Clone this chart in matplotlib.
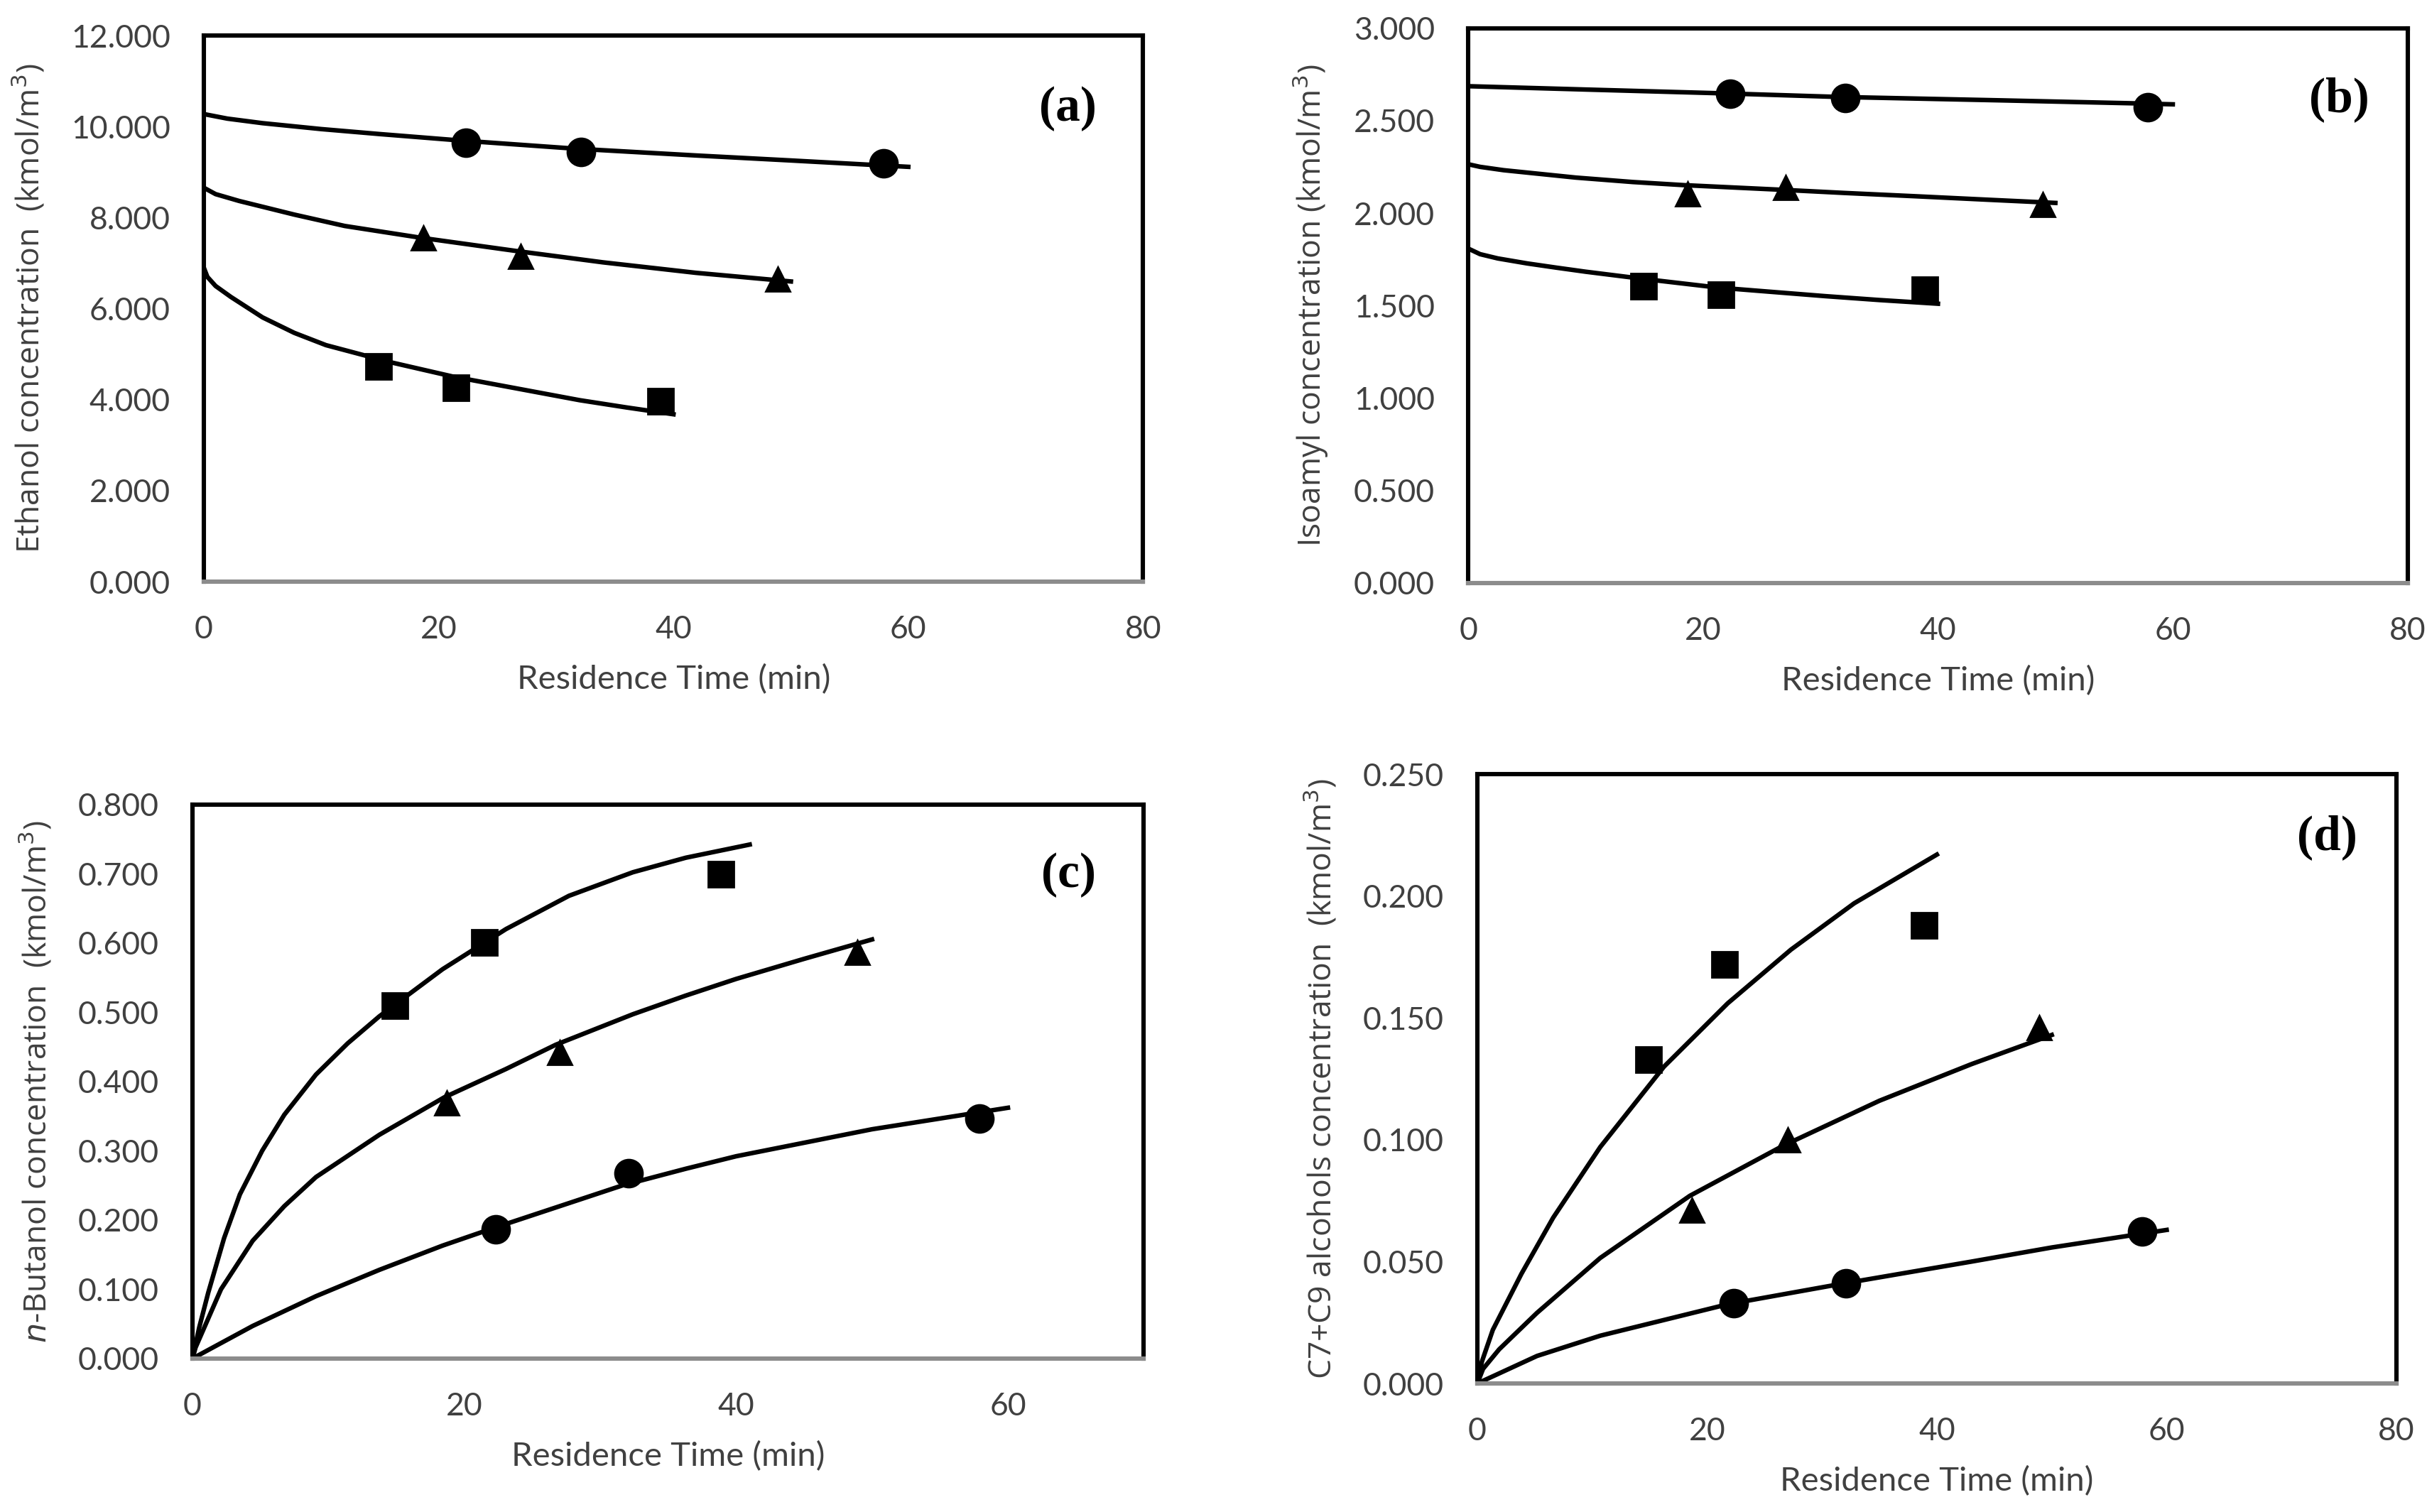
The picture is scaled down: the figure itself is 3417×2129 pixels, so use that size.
import matplotlib.pyplot as plt

# ---- measured points (residence time in min, concentration in kmol/m3) ----
t_sq = [14.9, 21.5, 38.9]
t_tri = [18.7, 27.0, 48.9]
t_cir = [22.3, 32.1, 57.9]

eth_sq = [4.73, 4.26, 3.96]
eth_tri = [7.55, 7.15, 6.65]
eth_cir = [9.65, 9.45, 9.20]

iso_sq = [1.606, 1.557, 1.585]
iso_tri = [2.105, 2.140, 2.048]
iso_cir = [2.646, 2.624, 2.574]

but_sq = [0.509, 0.601, 0.699]
but_tri = [0.369, 0.442, 0.586]
but_cir = [0.186, 0.267, 0.346]

c79_sq = [0.133, 0.172, 0.188]
c79_tri = [0.071, 0.100, 0.146]
c79_cir = [0.033, 0.041, 0.0625]

# ---- model curves ----
eth_sq_t = [0, 0.3, 1, 2.3, 5, 7.7, 10.4, 15.8, 21.2, 26.6, 32, 36, 40]
eth_sq_c = [6.90, 6.70, 6.50, 6.26, 5.81, 5.47, 5.20, 4.83, 4.51, 4.25, 3.99, 3.83, 3.68]
eth_tri_t = [0, 1, 3, 7.7, 12, 18.5, 26.6, 34, 41.9, 50]
eth_tri_c = [8.66, 8.52, 8.37, 8.07, 7.82, 7.56, 7.27, 7.02, 6.79, 6.60]
eth_cir_t = [0, 2, 5, 10, 15, 21.8, 31.6, 41.9, 50, 60]
eth_cir_c = [10.28, 10.18, 10.08, 9.95, 9.84, 9.70, 9.52, 9.37, 9.26, 9.12]

iso_sq_t = [0, 1, 2.5, 5, 7.5, 10, 14.8, 21.3, 30.4, 35, 40]
iso_sq_c = [1.808, 1.778, 1.755, 1.728, 1.705, 1.683, 1.645, 1.597, 1.551, 1.530, 1.510]
iso_tri_t = [0, 1, 3, 9.15, 14, 18.4, 26.7, 32, 38.1, 44, 50]
iso_tri_c = [2.264, 2.250, 2.232, 2.192, 2.168, 2.151, 2.126, 2.109, 2.091, 2.073, 2.055]
iso_cir_t = [0, 10, 21.9, 31.5, 45, 57, 60]
iso_cir_c = [2.686, 2.668, 2.647, 2.628, 2.610, 2.593, 2.588]

but_sq_t = [0, 0.5, 1.16, 2.33, 3.49, 5.13, 6.76, 9.09, 11.42, 13.75, 18.4, 23.07,
            27.7, 32.4, 36.3, 41]
but_sq_c = [0, 0.045, 0.095, 0.174, 0.237, 0.300, 0.352, 0.410, 0.455, 0.494, 0.562,
            0.620, 0.668, 0.702, 0.723, 0.742]
but_tri_t = [0, 0.23, 2.1, 4.43, 6.76, 9.09, 13.75, 18.52, 23.07, 26.73, 32.4, 36.3,
             40, 45, 50]
but_tri_c = [0, 0.016, 0.100, 0.170, 0.220, 0.262, 0.323, 0.377, 0.418, 0.453, 0.497,
             0.524, 0.548, 0.577, 0.605]
but_cir_t = [0, 4.43, 9.09, 13.75, 18.4, 21.95, 31.65, 36.3, 40, 50, 60]
but_cir_c = [0, 0.047, 0.090, 0.128, 0.163, 0.187, 0.250, 0.274, 0.292, 0.331, 0.362]

c79_sq_t = [0, 0.4, 1.35, 3.84, 6.6, 10.7, 16.25, 21.8, 27.3, 32.8, 40]
c79_sq_c = [0, 0.009, 0.022, 0.045, 0.068, 0.097, 0.130, 0.156, 0.178, 0.197, 0.217]
c79_tri_t = [0, 0.5, 1.9, 5.2, 10.7, 18.5, 26.6, 35, 43, 50]
c79_tri_c = [0, 0.006, 0.014, 0.029, 0.0515, 0.077, 0.0975, 0.116, 0.131, 0.143]
c79_cir_t = [0, 5.2, 10.7, 21.8, 31.6, 43, 50, 60]
c79_cir_c = [0, 0.0113, 0.0196, 0.0325, 0.0408, 0.0500, 0.0558, 0.063]

txt_col = '#404040'
tick_font = 'Lato'
label_font = 'Open Sans'

fig = plt.figure(figsize=(17.085, 10.645), dpi=200)


def panel(rect, curves, points, ylim, yticks, xlim, xticks, ylabel, tag, tag_pos):
    ax = fig.add_axes(rect)
    for t, c in curves:
        ax.plot(t, c, color='black', lw=2.3, zorder=2, solid_joinstyle='round')
    for (t, c), m, ms in zip(points, ['s', '^', 'o'], [13, 12, 14]):
        ax.plot(t, c, ls='none', marker=m, ms=ms, color='black', zorder=3)
    ax.set_xlim(*xlim)
    ax.set_ylim(*ylim)
    ax.set_xticks(xticks)
    ax.set_yticks(yticks)
    ax.set_yticklabels([f'{v:.3f}' for v in yticks])
    ax.tick_params(length=0, pad=17, labelsize=16, labelcolor=txt_col)
    for lb in ax.get_xticklabels() + ax.get_yticklabels():
        lb.set_fontfamily(tick_font)
    for s in ['left', 'top', 'right']:
        ax.spines[s].set_color('black')
        ax.spines[s].set_linewidth(2.2)
    ax.spines['bottom'].set_color('#8c8c8c')
    ax.spines['bottom'].set_linewidth(2.2)
    ax.set_xlabel('Residence Time (min)', fontsize=17, family=tick_font,
                  color=txt_col, labelpad=10)
    ax.set_ylabel(ylabel, fontsize=16, family=label_font, color=txt_col, labelpad=12)
    ax.text(tag_pos[0], tag_pos[1], '(' + tag + ')', transform=ax.transAxes,
            ha='center', va='center', fontsize=25, family='Liberation Serif',
            fontweight='bold')
    return ax


panel([0.084, 0.6153, 0.387, 0.361],
      [(eth_sq_t, eth_sq_c), (eth_tri_t, eth_tri_c), (eth_cir_t, eth_cir_c)],
      [(t_sq, eth_sq), (t_tri, eth_tri), (t_cir, eth_cir)],
      (0, 12), [0, 2, 4, 6, 8, 10, 12], (0, 80), [0, 20, 40, 60, 80],
      'Ethanol concentration  (kmol/m$^3$)', 'a', (0.92, 0.867))

panel([0.605, 0.6144, 0.387, 0.367],
      [(iso_sq_t, iso_sq_c), (iso_tri_t, iso_tri_c), (iso_cir_t, iso_cir_c)],
      [(t_sq, iso_sq), (t_tri, iso_tri), (t_cir, iso_cir)],
      (0, 3), [0, 0.5, 1.0, 1.5, 2.0, 2.5, 3.0], (0, 80), [0, 20, 40, 60, 80],
      'Isoamyl concentration (kmol/m$^3$)', 'b', (0.927, 0.872))

panel([0.0793, 0.1015, 0.392, 0.3665],
      [(but_sq_t, but_sq_c), (but_tri_t, but_tri_c), (but_cir_t, but_cir_c)],
      [(t_sq, but_sq), (t_tri, but_tri), (t_cir, but_cir)],
      (0, 0.8), [0, 0.1, 0.2, 0.3, 0.4, 0.5, 0.6, 0.7, 0.8], (0, 70), [0, 20, 40, 60],
      '$n$-Butanol concentration  (kmol/m$^3$)', 'c', (0.921, 0.873))

panel([0.6087, 0.085, 0.3787, 0.403],
      [(c79_sq_t, c79_sq_c), (c79_tri_t, c79_tri_c), (c79_cir_t, c79_cir_c)],
      [(t_sq, c79_sq), (t_tri, c79_tri), (t_cir, c79_cir)],
      (0, 0.25), [0, 0.05, 0.1, 0.15, 0.2, 0.25], (0, 80), [0, 20, 40, 60, 80],
      'C7+C9 alcohols concentration  (kmol/m$^3$)', 'd', (0.925, 0.896))

fig.savefig('out.png', dpi=200)
